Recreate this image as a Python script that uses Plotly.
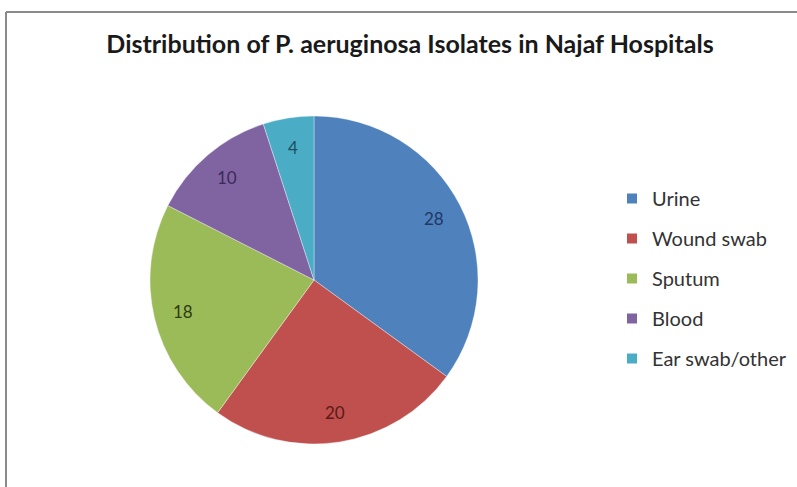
import math
import plotly.graph_objects as go

labels = ["Urine", "Wound swab", "Sputum", "Blood", "Ear swab/other"]
values = [28, 20, 18, 10, 4]
colors = ["#4F81BD", "#C0504D", "#9BBB59", "#8064A2", "#4BACC6"]
text_colors = ["#1F3864", "#5A1A18", "#2E3B12", "#3B2A58", "#1D4F5E"]
title = "Distribution of P. aeruginosa Isolates in Najaf Hospitals"

W, H = 797, 487
FONT = "Lato, Carlito, Calibri, sans-serif"

# pie placement (pixels)
CX, CY, R = 314, 280, 164
dom_x = [(CX - R) / W, (CX + R) / W]
dom_y = [(H - (CY + R)) / H, (H - (CY - R)) / H]

fig = go.Figure()
fig.add_trace(go.Pie(
    labels=labels, values=values, sort=False, direction="clockwise", rotation=0,
    marker=dict(colors=colors, line=dict(color="rgba(255,255,255,0.6)", width=0.6)),
    textinfo="none",
    domain=dict(x=dom_x, y=dom_y),
    showlegend=False, hoverinfo="label+value",
))

# data labels placed along each slice's bisector (Excel "best fit" style)
total = sum(values)
cum = 0
annotations = []
for v, tc in zip(values, text_colors):
    mid = (cum + v / 2) / total * 2 * math.pi
    cum += v
    px = CX + 0.82 * R * math.sin(mid)
    py = CY - 0.82 * R * math.cos(mid)
    annotations.append(dict(
        x=px / W, y=1 - py / H, xref="paper", yref="paper", text=str(v),
        showarrow=False, xanchor="center", yanchor="middle",
        font=dict(family=FONT, size=17, color=tc),
    ))

# legend entries (one group per category for item spacing)
for lab, col in zip(labels, colors):
    fig.add_trace(go.Scatter(
        x=[None], y=[None], mode="markers", name=lab, legendgroup=lab,
        marker=dict(symbol="square", size=10, color=col), showlegend=True,
    ))

fig.update_layout(
    width=W, height=H, margin=dict(l=0, r=0, t=0, b=0),
    paper_bgcolor="white", plot_bgcolor="white",
    xaxis=dict(visible=False), yaxis=dict(visible=False),
    title=dict(text="<b>" + title + "</b>", x=410 / W, xanchor="center",
               y=1 - 44 / H, yanchor="middle",
               font=dict(family=FONT, size=25, color="#1a1a1a")),
    legend=dict(x=612 / W, xanchor="left", y=1 - 179 / H, yanchor="top",
                font=dict(family=FONT, size=20, color="#333333"),
                tracegroupgap=11, itemwidth=30, bgcolor="rgba(0,0,0,0)"),
    annotations=annotations,
    shapes=[
        dict(type="line", xref="paper", yref="paper", x0=6 / W, x1=6 / W,
             y0=0, y1=1 - 12 / H, line=dict(color="#8a8a8a", width=2)),
        dict(type="line", xref="paper", yref="paper", x0=6 / W, x1=1,
             y0=1 - 12 / H, y1=1 - 12 / H, line=dict(color="#8a8a8a", width=2)),
    ],
)

fig.write_html("out.html")
